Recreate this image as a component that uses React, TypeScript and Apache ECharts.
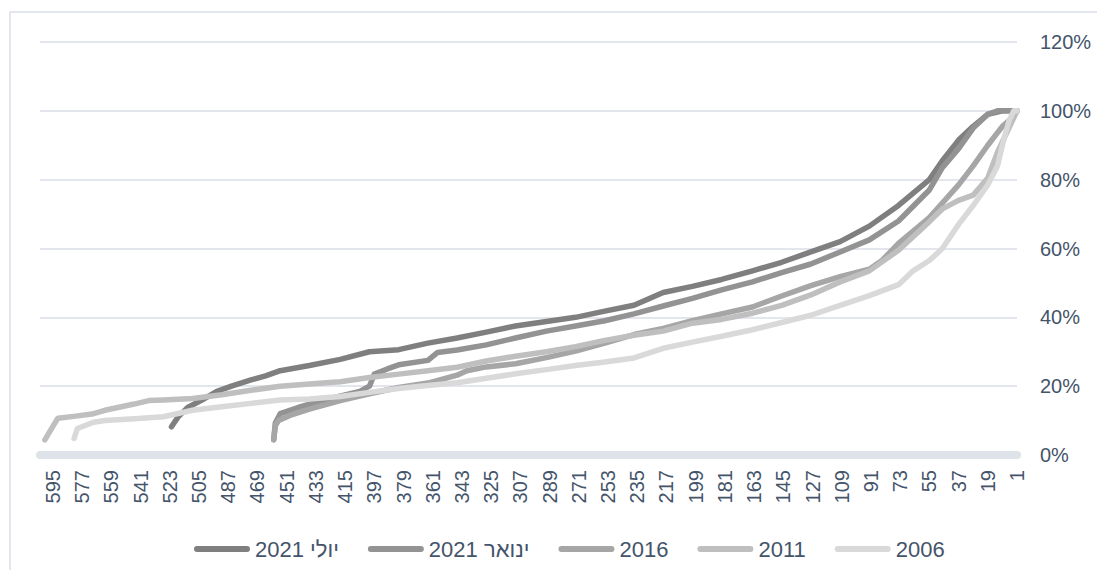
import React, { useEffect, useRef } from "react";
import * as echarts from "echarts";

// Rank axis (1 = highest), shown right-to-left
const categories: string[] = Array.from({ length: 603 }, (_, i) => String(i + 1));

const seriesNames = ["יולי 2021", "ינואר 2021", "2016", "2011", "2006"];
const seriesColors = ["#7f7f7f", "#939393", "#a6a6a6", "#bfbfbf", "#d9d9d9"];

// [rank, cumulative share %]
const july2021: [number, number][] = [
  [522, 8.2], [518, 11.0], [512, 13.8], [503, 16.0], [494, 18.5], [485, 20.0], [473, 21.8],
  [464, 23.0], [455, 24.5], [437, 26.0], [418, 27.8], [400, 30.0], [382, 30.6], [364, 32.5],
  [346, 34.0], [328, 35.7], [310, 37.5], [291, 38.8], [273, 40.0], [255, 41.8], [237, 43.5],
  [219, 47.2], [201, 49.0], [183, 51.0], [164, 53.5], [146, 56.0], [128, 59.0], [110, 62.0],
  [92, 66.5], [74, 72.5], [55, 80.0], [47, 85.5], [37, 91.5], [28, 95.5], [19, 99.0],
  [10, 100], [1, 100],
];

const jan2021: [number, number][] = [
  [459, 4.4], [458, 9.3], [455, 12.0], [444, 13.8], [426, 16.2], [406, 18.5], [400, 20.0],
  [397, 23.5], [389, 25.0], [382, 26.2], [364, 27.5], [358, 29.8], [346, 30.5], [328, 32.0],
  [310, 34.0], [291, 36.0], [273, 37.5], [255, 39.0], [237, 41.0], [219, 43.3], [201, 45.5],
  [183, 48.0], [164, 50.3], [146, 53.0], [128, 55.5], [110, 59.0], [92, 62.5], [74, 68.0],
  [55, 77.0], [47, 83.5], [37, 89.0], [28, 95.0], [19, 99.0], [13, 100], [1, 100],
];

const y2016: [number, number][] = [
  [459, 4.4], [458, 8.5], [456, 10.0], [449, 11.5], [437, 13.3], [418, 15.8], [400, 17.8],
  [382, 19.6], [364, 20.9], [346, 23.2], [340, 24.5], [328, 25.6], [310, 26.5], [291, 28.3],
  [273, 30.2], [255, 32.5], [237, 35.0], [219, 36.8], [201, 39.0], [183, 41.0], [164, 43.0],
  [146, 46.2], [128, 49.2], [110, 51.8], [92, 54.0], [84, 56.6], [74, 61.5], [55, 69.0],
  [37, 78.5], [28, 84.0], [19, 90.0], [10, 95.5], [4, 98.0], [1, 100],
];

const y2011: [number, number][] = [
  [600, 4.4], [597, 6.8], [592, 10.7], [581, 11.3], [570, 12.0], [563, 13.0], [545, 14.8],
  [536, 15.8], [527, 16.0], [509, 16.4], [491, 17.5], [473, 18.8], [455, 20.0], [437, 20.6],
  [418, 21.3], [400, 22.5], [382, 23.5], [364, 24.5], [346, 25.5], [328, 27.3], [310, 28.7],
  [291, 30.0], [273, 31.5], [255, 33.3], [237, 34.8], [219, 36.0], [201, 38.3], [183, 39.4],
  [164, 41.2], [146, 43.5], [128, 46.5], [110, 50.3], [92, 53.5], [74, 59.5], [55, 67.8],
  [47, 71.5], [37, 74.0], [28, 75.5], [19, 80.5], [13, 88.0], [7, 94.0], [1, 100],
];

const y2006: [number, number][] = [
  [582, 4.8], [580, 7.7], [570, 9.5], [563, 10.0], [545, 10.5], [527, 11.1], [509, 13.0],
  [491, 14.0], [473, 15.0], [455, 16.0], [437, 16.3], [418, 17.0], [400, 18.2], [382, 19.3],
  [364, 20.2], [346, 21.0], [328, 22.3], [310, 23.6], [291, 24.8], [273, 26.0], [255, 27.0],
  [237, 28.2], [219, 31.0], [201, 32.8], [183, 34.5], [164, 36.4], [146, 38.5], [128, 40.6],
  [110, 43.5], [92, 46.3], [74, 49.5], [65, 53.5], [55, 56.5], [47, 60.0], [37, 67.0],
  [28, 72.5], [19, 78.5], [13, 84.0], [10, 90.0], [6, 97.0], [3, 100], [1, 100],
];

const seriesData = [july2021, jan2021, y2016, y2011, y2006];

const TEXT = "#44546a";
const FONT = "Liberation Sans, Arial, sans-serif";

export default function App() {
  const ref = useRef<HTMLDivElement>(null);
  useEffect(() => {
    if (!ref.current) return;
    const chart = echarts.init(ref.current, undefined, { renderer: "svg" });
    chart.setOption({
      animation: false,
      backgroundColor: "#ffffff",
      graphic: [
        {
          type: "rect",
          shape: { x: 2, y: 4, width: 1300, height: 900 },
          style: { fill: "none", stroke: "#dadee6", lineWidth: 1.5 },
          silent: true,
          z: -10,
        },
      ],
      grid: { left: 32, right: 80, top: 34, bottom: 115, containLabel: false },
      legend: {
        data: seriesNames,
        left: 181,
        top: 523,
        itemWidth: 56,
        itemHeight: 6,
        itemGap: 29,
        icon: "path://M3,0 L53,0 A3,3 0 0 1 53,6 L3,6 A3,3 0 0 1 3,0 Z",
        textStyle: { color: TEXT, fontSize: 22, fontFamily: FONT, lineHeight: 26 },
      },
      xAxis: {
        type: "category",
        data: categories,
        inverse: true,
        boundaryGap: false,
        axisLine: { show: true, lineStyle: { color: "#dee3ea", width: 8 } },
        axisTick: { show: false },
        splitLine: { show: false },
        axisLabel: {
          interval: 17,
          rotate: 90,
          margin: 15,
          color: TEXT,
          fontSize: 20,
          fontFamily: FONT,
        },
      },
      yAxis: {
        type: "value",
        position: "right",
        min: 0,
        max: 120,
        interval: 20,
        axisLine: { show: false },
        axisTick: { show: false },
        axisLabel: {
          formatter: "{value}%",
          margin: 23,
          color: TEXT,
          fontSize: 20,
          fontFamily: FONT,
        },
        splitLine: { lineStyle: { color: "#dadfe7", width: 1.5 } },
      },
      series: seriesNames.map((name, i) => ({
        name,
        type: "line",
        showSymbol: false,
        symbol: "none",
        data: seriesData[i].map(([r, v]) => [String(r), v]),
        lineStyle: { color: seriesColors[i], width: 5.5, cap: "round", join: "round" },
        itemStyle: { color: seriesColors[i] },
        emphasis: { disabled: true },
      })),
    });
    return () => chart.dispose();
  }, []);
  return <div ref={ref} style={{ width: 1089, height: 562 }} />;
}
